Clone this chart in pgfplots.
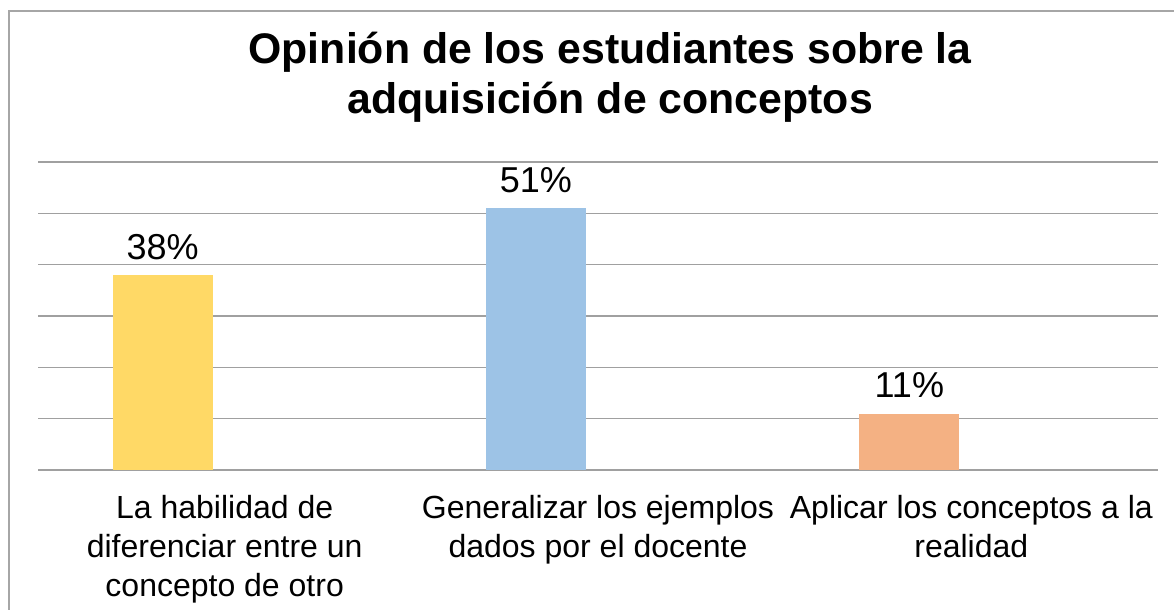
\documentclass[border=0pt]{standalone}
\usepackage{pgfplots}
\pgfplotsset{compat=1.18}
\usepackage{fontspec}
\setmainfont{Liberation Sans}
\definecolor{barA}{HTML}{FFD966}
\definecolor{barB}{HTML}{9DC3E6}
\definecolor{barC}{HTML}{F4B183}
\definecolor{gridc}{HTML}{A0A0A0}
\definecolor{framec}{HTML}{A6A6A6}
\begin{document}
\begin{tikzpicture}
\useasboundingbox (0bp,0bp) rectangle (1174bp,610bp);
% outer frame (right and bottom edges fall outside the picture)
\draw[framec, line width=1.5bp] (9bp,-5bp) -- (9bp,599bp) -- (1180bp,599bp);
\node[font=\bfseries\fontsize{42.8bp}{50bp}\selectfont] at (610bp,558bp) {Opinión de los estudiantes sobre la};
\node[font=\bfseries\fontsize{42.8bp}{50bp}\selectfont] at (610bp,508bp) {adquisición de conceptos};
\begin{axis}[
    at={(38bp,140bp)}, anchor=south west,
    scale only axis,
    width=1120bp, height=308bp,
    ybar, bar width=100bp,
    xmin=-0.5, xmax=2.5,
    ymin=0, ymax=60,
    xtick={0,1,2},
    xticklabels={{La habilidad de\\diferenciar entre un\\concepto de otro},
                 {Generalizar los ejemplos\\dados por el docente},
                 {Aplicar los conceptos a la\\realidad}},
    xticklabel style={align=center, font=\fontsize{32bp}{39bp}\selectfont, yshift=-22bp},
    major tick length=0pt,
    ytick={0,10,...,60},
    yticklabels={},
    ymajorgrids,
    grid style={gridc, line width=1.2bp},
    axis line style={draw=none},
    nodes near coords={\pgfmathprintnumber{\pgfplotspointmeta}\%},
    every node near coord/.append style={font=\fontsize{36bp}{40bp}\selectfont, black, yshift=12bp},
    /pgf/number format/assume math mode=true,
    clip=false,
]
\addplot[fill=barA, draw=none, bar shift=-62bp] coordinates {(0,38)};
\addplot[fill=barB, draw=none, bar shift=-62bp] coordinates {(1,51)};
\addplot[fill=barC, draw=none, bar shift=-62bp] coordinates {(2,11)};
\end{axis}
\end{tikzpicture}
\end{document}
